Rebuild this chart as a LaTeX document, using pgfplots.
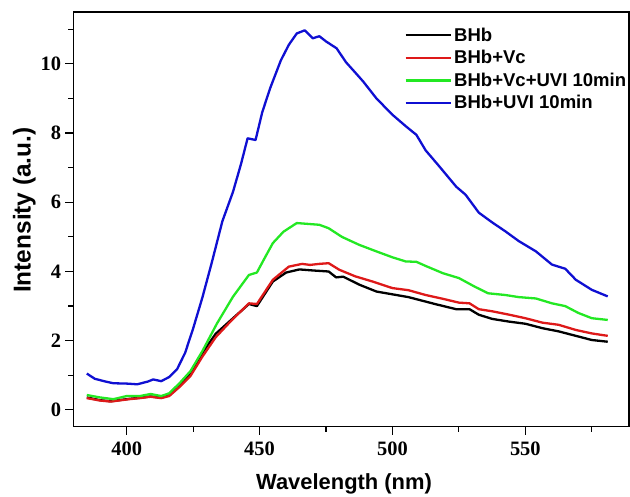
\documentclass[border=0pt]{standalone}
\usepackage{fontspec}
\setmainfont{Liberation Serif}
\setsansfont{Liberation Sans}
\usepackage{pgfplots}
\pgfplotsset{compat=1.18}
\definecolor{cred}{RGB}{222,25,25}
\definecolor{cgreen}{RGB}{35,232,35}
\definecolor{cblue}{RGB}{15,15,210}
\begin{document}
\begin{tikzpicture}
\begin{axis}[
  name=ax,
  scale only axis, width=555.5bp, height=414.5bp,
  xmin=380, xmax=589, ymin=-0.48, ymax=11.5,
  tick pos=left,
  tick align=outside,
  major tick length=8bp, minor tick length=5bp,
  xtick={400,450,500,550}, minor xtick={425,475,525,575},
  ytick={0,2,...,10}, minor ytick={1,3,...,11},
  tick style={line width=1.2bp, black},
  axis line style={line width=1.3bp},
  ticklabel style={font=\fontsize{20.5}{20.5}\selectfont\bfseries},
  xticklabel style={yshift=-4bp},
  yticklabel style={xshift=-1bp},
  /pgf/number format/assume math mode=true,
  xlabel={Wavelength (nm)}, ylabel={Intensity (a.u.)},
  xlabel style={at={(axis description cs:0.487,-0.139)}, anchor=center,
    font=\sffamily\bfseries\fontsize{22}{22}\selectfont},
  ylabel style={at={(axis description cs:-0.0886,0.522)}, anchor=center,
    font=\sffamily\bfseries\fontsize{24.5}{24.5}\selectfont},
  legend style={at={(axis description cs:0.59,0.973)}, anchor=north west, draw=none, fill=none,
    font=\sffamily\bfseries\fontsize{18.6}{18.6}\selectfont, row sep=2.6bp,
    nodes={inner sep=2.5bp}},
  legend cell align=left,
  legend image code/.code={\draw[#1] (0bp,0bp) -- (45bp,0bp);},
  every axis plot/.append style={line width=2.3bp, line join=round},
]
\addplot[black] coordinates {
(385,0.36) (390,0.28) (394,0.25) (401,0.32) (405,0.35) (409,0.39) (413,0.35) (416,0.42)
(420,0.70) (424,1.05) (428.5,1.65) (433.5,2.20) (439,2.58) (446,3.06) (449,3.00) (455,3.71)
(460,3.97) (465,4.06) (470,4.03) (476,4.00) (478.8,3.83) (481.5,3.85) (487.5,3.62) (494,3.42)
(500,3.34) (506,3.26) (510,3.18) (516,3.06) (524,2.91) (529,2.91) (532.5,2.75) (537.5,2.63)
(544,2.55) (550,2.49) (556.5,2.36) (562.5,2.27) (569,2.14) (575,2.02) (581,1.97)
};
\addlegendentry{BHb}
\addplot[cred] coordinates {
(385,0.34) (390,0.27) (394,0.24) (401,0.31) (405,0.34) (409,0.38) (413,0.34) (416,0.40)
(420,0.67) (424,0.98) (428.5,1.54) (433.5,2.10) (439,2.55) (446,3.08) (449,3.06) (455,3.76)
(461,4.14) (466,4.22) (469,4.19) (472.5,4.22) (476,4.24) (480,4.05) (486,3.86) (492.5,3.71)
(500,3.52) (506,3.46) (512.5,3.32) (519,3.21) (525,3.10) (529,3.08) (532.5,2.91) (537.5,2.85)
(544,2.75) (550,2.65) (556.5,2.52) (562.5,2.46) (569,2.31) (575,2.21) (581,2.14)
};
\addlegendentry{BHb+Vc}
\addplot[cgreen] coordinates {
(385,0.43) (390,0.36) (395,0.31) (400,0.40) (405,0.40) (409,0.46) (413,0.40) (416,0.48)
(420,0.78) (424,1.12) (428.5,1.70) (434,2.50) (440,3.27) (446,3.90) (449,3.97) (452,4.40)
(455,4.82) (459,5.15) (464,5.40) (472.5,5.35) (476,5.25) (481,5.00) (487.5,4.77) (494,4.58)
(500,4.41) (505,4.29) (509,4.28) (512.5,4.16) (519,3.95) (525,3.81) (531,3.56) (536,3.37)
(542.5,3.32) (547.5,3.26) (554,3.22) (560,3.08) (565,3.00) (570,2.80) (575,2.65) (581,2.60)
};
\addlegendentry{BHb+Vc+UVI 10min}
\addplot[cblue] coordinates {
(385,1.05) (388,0.90) (392,0.82) (395,0.77) (400,0.76) (404,0.74) (408,0.82) (410,0.88)
(413,0.83) (416,0.95) (419,1.18) (422,1.65) (425,2.35) (428.5,3.25) (432,4.25) (436,5.45)
(440,6.30) (443,7.10) (445.5,7.85) (448.5,7.80) (451,8.60) (454,9.30) (458,10.10) (461,10.55)
(464,10.88) (467,10.97) (470,10.74) (472.5,10.80) (475,10.65) (479,10.45) (482.5,10.05)
(486,9.75) (489,9.49) (494,9.00) (500,8.53) (505,8.20) (509,7.95) (512.5,7.50) (517.5,7.05)
(524,6.45) (527.5,6.22) (532.5,5.70) (537.5,5.42) (542.5,5.16) (547.5,4.88) (554,4.58)
(560,4.20) (565,4.08) (569,3.76) (575,3.47) (581,3.28)
};
\addlegendentry{BHb+UVI 10min}
\end{axis}
\pgfresetboundingbox
\useasboundingbox (ax.south west) ++(-73.5bp,-70.5bp) rectangle ++(630bp,497bp);
\end{tikzpicture}
\end{document}
